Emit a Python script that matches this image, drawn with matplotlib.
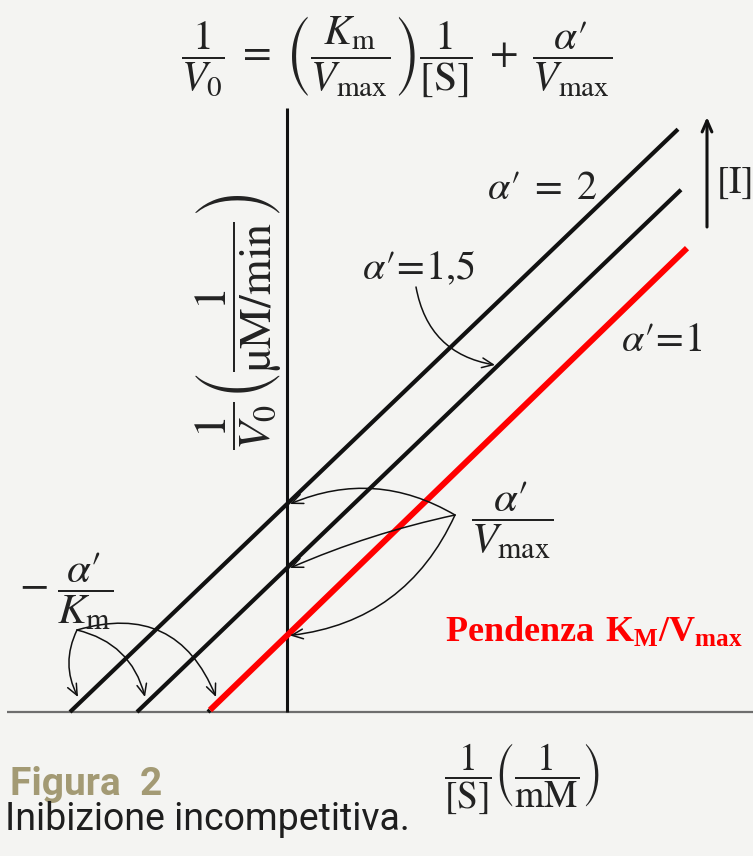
import matplotlib
matplotlib.use("Agg")
import matplotlib.pyplot as plt

plt.rcParams["mathtext.fontset"] = "stix"
plt.rcParams["mathtext.bf"] = "Liberation Serif:bold"

# Lineweaver-Burk lines for uncompetitive inhibition (arbitrary display units)
alpha_labels = ["1", "1,5", "2"]
x_intercepts = [-0.79, -1.50, -2.17]   # -alpha'/Km
y_intercepts = [0.765, 1.44, 2.08]     # alpha'/Vmax
x_ends = [4.00, 3.94, 3.91]
red_start_x = -0.77

BG = "#f4f4f2"
fig = plt.figure(figsize=(7.53, 8.56), dpi=100, facecolor=BG)
ax = fig.add_axes([0, 0, 1, 1])
ax.set_facecolor(BG)
ax.set_xlim(-2.87, 4.66)
ax.set_ylim(-1.44, 7.12)
ax.axis("off")

# axes
ax.plot([-2.80, 4.66], [0, 0], color="#6e6e6e", lw=1.6, solid_capstyle="butt")
ax.plot([0, 0], [0, 6.04], color="#111111", lw=2.2, solid_capstyle="butt")

# the three parallel lines
for i, (x0, b, xe) in enumerate(zip(x_intercepts, y_intercepts, x_ends)):
    slope = b / (-x0)
    if i == 0:
        ax.plot([x0, red_start_x], [0, slope * (red_start_x - x0)],
                color="#111111", lw=3.0, solid_capstyle="butt")
        ax.plot([red_start_x, xe], [slope * (red_start_x - x0), slope * (xe - x0)],
                color="#ff0000", lw=4.3, solid_capstyle="butt")
    else:
        ax.plot([x0, xe], [0, slope * (xe - x0)], color="#111111", lw=3.0,
                solid_capstyle="butt")

arrow_kw = dict(arrowstyle="->,head_length=0.8,head_width=0.35", color="#111111",
                lw=1.1, shrinkA=0, shrinkB=0)

# arrows to the y intercepts
tail_v = (1.68, 1.97)
for b, rad in zip(y_intercepts, [-0.28, 0.05, 0.25]):
    ax.annotate("", xy=(0.03, b), xytext=tail_v,
                arrowprops=dict(connectionstyle=f"arc3,rad={rad}", **arrow_kw))

# arrows to the x intercepts
tail_k = (-2.10, 0.82)
for x0, rad in zip(x_intercepts, [-0.45, -0.3, 0.25]):
    ax.annotate("", xy=(x0 + 0.08, 0.15), xytext=tail_k,
                arrowprops=dict(connectionstyle=f"arc3,rad={rad}", **arrow_kw))

# arrow for alpha' = 1,5
ax.annotate("", xy=(2.08, 3.47), xytext=(1.29, 4.25),
            arrowprops=dict(connectionstyle="arc3,rad=0.35", **arrow_kw))

# increasing [I]
ax.annotate("", xy=(4.20, 5.95), xytext=(4.20, 4.85),
            arrowprops=dict(arrowstyle="->,head_length=0.8,head_width=0.35",
                            color="#111111", lw=2.2, shrinkA=0, shrinkB=0))

tc = "#222222"
ax.text(1.10, 6.55,
        r"$\dfrac{1}{V_0}\;=\;\left(\dfrac{K_{\rm m}}{V_{\rm max}}\right)\dfrac{1}{[{\rm S}]}\;+\;\dfrac{\alpha′}{V_{\rm max}}$",
        fontsize=30, ha="center", va="center", color=tc)
ax.text(-0.48, 3.90,
        r"$\dfrac{1}{V_0}\left(\dfrac{1}{{\rm µM/min}}\right)$",
        fontsize=33, ha="center", va="center", rotation=90, color=tc)
ax.text(2.35, -0.66,
        r"$\dfrac{1}{[{\rm S}]}\left(\dfrac{1}{{\rm mM}}\right)$",
        fontsize=27, ha="center", va="center", color=tc)
ax.text(-2.21, 1.21, r"$-\;\dfrac{\alpha′}{K_{\rm m}}$",
        fontsize=31, ha="center", va="center", color=tc)
ax.text(2.25, 1.92, r"$\dfrac{\alpha′}{V_{\rm max}}$",
        fontsize=31, ha="center", va="center", color=tc)
ax.text(2.55, 5.24, r"$\alpha′\;=\;2$", fontsize=29,
        ha="center", va="center", color=tc)
ax.text(1.32, 4.44, r"$\alpha′\!=\!1{,}5$", fontsize=29,
        ha="center", va="center", color=tc)
ax.text(3.75, 3.72, r"$\alpha′\!=\!1$", fontsize=29,
        ha="center", va="center", color=tc)
ax.text(4.29, 5.29, r"$[{\rm I}]$", fontsize=27, ha="left", va="center", color=tc)

ax.text(1.58, 0.80, r"$\mathbf{Pendenza\ K_{M}/V_{max}}$", fontsize=26,
        ha="left", va="center", color="#ff0000", math_fontfamily="custom")

ax.text(-2.77, -0.83, "Figura  2", fontsize=28, fontweight="bold",
        family=["Roboto", "DejaVu Sans"], color="#a39a74",
        ha="left", va="baseline")
ax.text(-2.82, -1.18, "Inibizione incompetitiva.", fontsize=27,
        family=["Roboto", "DejaVu Sans"], color="#1e1e1e",
        ha="left", va="baseline")

fig.savefig("out.png", dpi=100, facecolor=BG)
